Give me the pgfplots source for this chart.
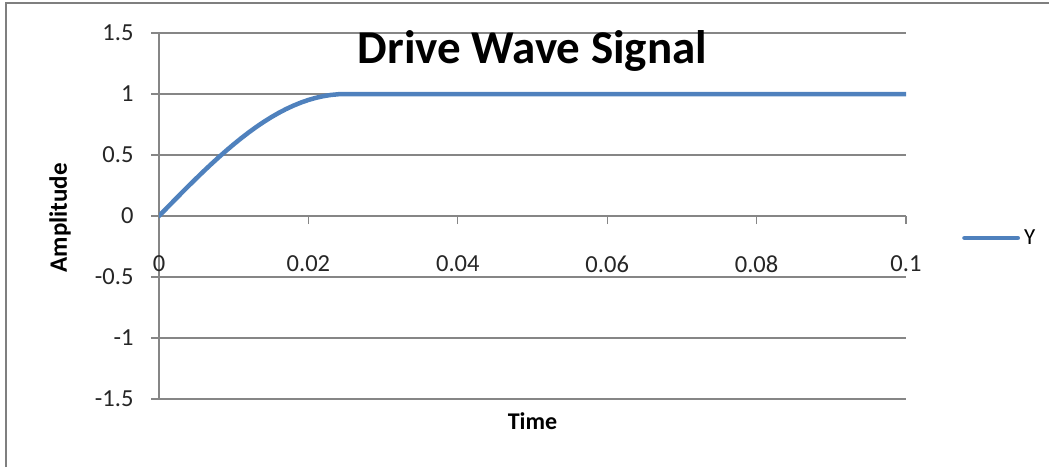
\documentclass[border=0pt]{standalone}
\usepackage{pgfplots}
\pgfplotsset{compat=1.18}
\usepackage{fontspec}
\setmainfont{Carlito}

\definecolor{seriesblue}{HTML}{4F81BD}
\definecolor{gridgray}{HTML}{868686}
\definecolor{framegray}{HTML}{7F7F7F}

\begin{document}
\begin{tikzpicture}[x=1pt,y=1pt]
% page area and chart frame (top and left edges)
\useasboundingbox (0,0) rectangle (1049,467);
\draw[framegray, line width=2pt] (6,0) -- (6,463.5) -- (1049,463.5);

\begin{axis}[
  at={(159pt,68pt)}, anchor=south west,
  scale only axis, width=747pt, height=366pt,
  xmin=0, xmax=0.1, ymin=-1.5, ymax=1.5,
  axis x line=middle, axis y line=left,
  hide obscured x ticks=false,
  axis line style={-, gridgray, line width=1.2pt},
  xtick={0,0.02,0.04,0.06,0.08,0.1},
  ytick={-1.5,-1,-0.5,0,0.5,1,1.5},
  yticklabels={-1.5,-1,-0.5,0,0.5,1,1.5},
  xticklabels={0,0.02,0.04,0.06,0.08,0.1},
  tick align=outside,
  major tick length=8pt,
  tick style={gridgray, line width=1.2pt},
  ymajorgrids, major grid style={gridgray, line width=1.2pt},
  tick label style={font=\fontsize{24.5}{28}\selectfont, text=black!85},
  xticklabel style={yshift=-28pt},
  yticklabel style={xshift=-14pt},
  /pgf/number format/assume math mode=true,
  title={Drive Wave Signal},
  title style={font=\fontsize{47}{54}\selectfont\bfseries, at={(axis description cs:0.5,0.899)}, anchor=base},
  xlabel={Time},
  xlabel style={font=\fontsize{24}{28}\selectfont\bfseries, at={(axis description cs:0.5,-0.082)}, anchor=base},
  ylabel={Amplitude},
  ylabel style={font=\fontsize{25}{28}\selectfont\bfseries, at={(axis description cs:-0.1325,0.495)}, anchor=center, rotate=0},
  legend style={draw=none, fill=none, at={(axis description cs:1.075,0.44)}, anchor=west,
    font=\fontsize{23}{26}\selectfont, inner sep=0pt,
    /tikz/every odd column/.style={column sep=2pt}},
  legend image code/.code={\draw[#1, line width=4.8pt] (0pt,0pt) -- (53pt,0pt);},
]
\addplot[seriesblue, line width=4.5pt, line cap=round, line join=round] coordinates {
  (0,0) (0.001,0.0628) (0.002,0.1253) (0.003,0.1874) (0.004,0.2487)
  (0.005,0.3090) (0.006,0.3681) (0.007,0.4258) (0.008,0.4818) (0.009,0.5358)
  (0.010,0.5878) (0.011,0.6374) (0.012,0.6845) (0.013,0.7290) (0.014,0.7705)
  (0.015,0.8090) (0.016,0.8443) (0.017,0.8763) (0.018,0.9048) (0.019,0.9298)
  (0.020,0.9511) (0.021,0.9686) (0.022,0.9823) (0.023,0.9921) (0.024,0.9980)
  (0.025,1.0000) (0.05,1) (0.075,1) (0.1,1)
};
\addlegendentry{Y}
\end{axis}
\end{tikzpicture}
\end{document}
